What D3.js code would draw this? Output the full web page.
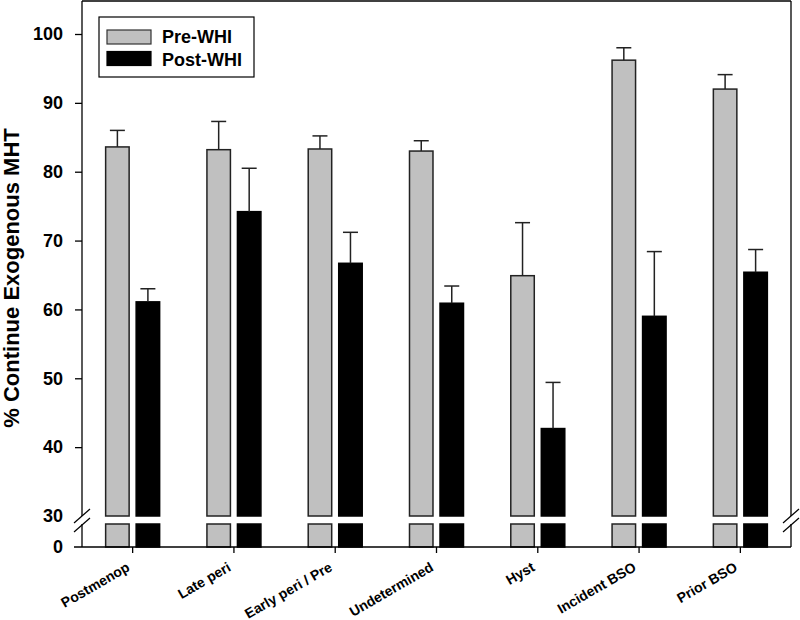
<!DOCTYPE html>
<html>
<head>
<meta charset="utf-8">
<script src="https://cdn.jsdelivr.net/npm/d3@7"></script>
<style>
  html, body { margin: 0; padding: 0; background: #fff; }
  svg { display: block; }
  text { font-family: Arial, "Liberation Sans", sans-serif; font-weight: bold; fill: #000; }
</style>
</head>
<body>
<svg id="chart" width="800" height="620"></svg>
<script>
const categories = ["Postmenop", "Late peri", "Early peri / Pre", "Undetermined", "Hyst", "Incident BSO", "Prior BSO"];
const series = ["Pre-WHI", "Post-WHI"];
const preValues  = [83.6, 83.2, 83.3, 83.0, 64.9, 96.2, 92.0];
const preUpper   = [86.0, 87.3, 85.2, 84.5, 72.6, 98.0, 94.1];
const postValues = [61.1, 74.2, 66.7, 60.9, 42.7, 59.0, 65.4];
const postUpper  = [63.0, 80.5, 71.2, 63.4, 49.4, 68.4, 68.7];
const upperTicks = [30, 40, 50, 60, 70, 80, 90, 100];
const lowerTicks = [0];
const yLabel = "% Continue Exogenous MHT";

const colors = { "Pre-WHI": "#c0c0c0", "Post-WHI": "#000000" };

const svg = d3.select("#chart");
const mLeft = 82, mRight = 791, mTop = 1, mBottom = 547;
const breakTop = 516, breakBot = 524;

const x = d3.scaleBand().domain(categories).range([mLeft, mRight]).padding(0);
const xs = d3.scaleBand().domain(series).range([-27, 27]).paddingInner(0.23).paddingOuter(0);
const yTop = d3.scaleLinear().domain([30, 100]).range([breakTop, 34]);
const yBot = d3.scaleLinear().domain([0, 30]).range([mBottom, breakBot]);

const data = [];
categories.forEach((c, i) => {
  data.push({ cat: c, s: "Pre-WHI", v: preValues[i], up: preUpper[i] });
  data.push({ cat: c, s: "Post-WHI", v: postValues[i], up: postUpper[i] });
});

const cx = d => x(d.cat) + x.bandwidth() / 2 + xs(d.s);

// upper segment bars
svg.append("g").selectAll("rect").data(data).join("rect")
  .attr("x", d => cx(d))
  .attr("width", xs.bandwidth())
  .attr("y", d => yTop(d.v))
  .attr("height", d => yTop(30) - yTop(d.v))
  .attr("fill", d => colors[d.s])
  .attr("stroke", d => d.s === "Pre-WHI" ? "#222" : "#000")
  .attr("stroke-width", 1.5);

// lower segment bars
svg.append("g").selectAll("rect").data(data).join("rect")
  .attr("x", d => cx(d))
  .attr("width", xs.bandwidth())
  .attr("y", d => yBot(30))
  .attr("height", d => yBot(0) - yBot(30))
  .attr("fill", d => colors[d.s])
  .attr("stroke", d => d.s === "Pre-WHI" ? "#222" : "#000")
  .attr("stroke-width", 1.5);

// error bars
const eg = svg.append("g").attr("stroke", "#222").attr("stroke-width", 1.5);
data.forEach(d => {
  const mx = cx(d) + xs.bandwidth() / 2;
  eg.append("line").attr("x1", mx).attr("x2", mx).attr("y1", yTop(d.v)).attr("y2", yTop(d.up));
  eg.append("line").attr("x1", mx - 7.5).attr("x2", mx + 7.5).attr("y1", yTop(d.up)).attr("y2", yTop(d.up));
});

// frame
const fg = svg.append("g").attr("stroke", "#000").attr("stroke-width", 1.3).attr("fill", "none");
fg.append("line").attr("x1", mLeft).attr("x2", mRight).attr("y1", mTop).attr("y2", mTop);
fg.append("line").attr("x1", mRight).attr("x2", mRight).attr("y1", mTop).attr("y2", breakTop);
fg.append("line").attr("x1", mRight).attr("x2", mRight).attr("y1", breakBot).attr("y2", mBottom);
fg.append("line").attr("x1", mLeft - 8).attr("x2", mRight).attr("y1", mBottom).attr("y2", mBottom);

// left axis upper
const axU = svg.append("g").attr("transform", `translate(${mLeft},0)`)
  .call(d3.axisLeft(yTop).tickValues(upperTicks).tickSize(7).tickPadding(12).tickFormat(d3.format("d")));
axU.select(".domain").attr("d", `M0,${mTop}V${breakTop}`);
const axL = svg.append("g").attr("transform", `translate(${mLeft},0)`)
  .call(d3.axisLeft(yBot).tickValues(lowerTicks).tickSize(7).tickPadding(12).tickFormat(d3.format("d")));
axL.select(".domain").attr("d", `M0,${breakBot}V${mBottom}`);
[axU, axL].forEach(a => {
  a.selectAll("line, path").attr("stroke", "#000").attr("stroke-width", 1.3);
  a.selectAll("text").style("font-size", "18px").style("font-weight", "bold").attr("fill", "#000");
});
axU.selectAll(".tick").filter(d => d === 30).select("line").remove();
axL.selectAll(".tick line").remove();

// break marks
const bg = svg.append("g").attr("stroke", "#000").attr("stroke-width", 1.2);
[mLeft, mRight].forEach(px => {
  bg.append("line").attr("x1", px - 8).attr("y1", breakTop + 7).attr("x2", px + 8).attr("y2", breakTop - 7);
  bg.append("line").attr("x1", px - 8).attr("y1", breakBot + 8).attr("x2", px + 8).attr("y2", breakBot - 6);
});

// x axis
const ax = svg.append("g").attr("transform", `translate(0,${mBottom})`)
  .call(d3.axisBottom(x).tickSize(6).tickFormat(""));
ax.select(".domain").remove();
ax.selectAll(".tick line").attr("stroke", "#000").attr("stroke-width", 1.3);

svg.append("g").selectAll("text").data(categories).join("text")
  .attr("transform", c => `translate(${x(c) + x.bandwidth() / 2 - 2},${570}) rotate(-30)`)
  .attr("text-anchor", "end")
  .style("font-size", "14px")
  .text(c => c);

// y label
svg.append("text")
  .attr("transform", "translate(19,278) rotate(-90)")
  .attr("text-anchor", "middle")
  .style("font-size", "22px")
  .text(yLabel);

// legend
const lg = svg.append("g");
lg.append("rect").attr("x", 99).attr("y", 17).attr("width", 155).attr("height", 60)
  .attr("fill", "#fff").attr("stroke", "#000").attr("stroke-width", 1.2);
series.forEach((s, i) => {
  lg.append("rect").attr("x", 107).attr("y", 30 + i * 21.5).attr("width", 44).attr("height", 14)
    .attr("fill", colors[s]).attr("stroke", s === "Pre-WHI" ? "#333" : "#000").attr("stroke-width", 1.2);
  lg.append("text").attr("x", 162).attr("y", 43 + i * 22.5).style("font-size", "18px").text(s);
});
</script>
</body>
</html>
